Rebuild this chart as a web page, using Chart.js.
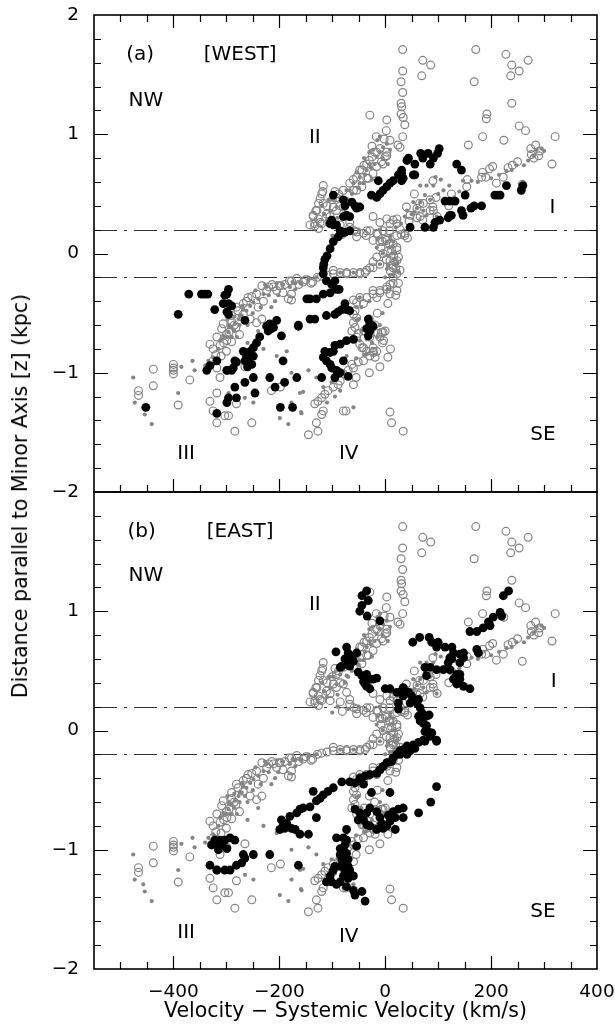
<!DOCTYPE html>
<html>
<head>
<meta charset="utf-8">
<script src="https://cdn.jsdelivr.net/npm/chart.js@4.4.1/dist/chart.umd.min.js"></script>
<style>
  body { margin: 0; background: #fff; width: 615px; height: 1027px; position: relative; overflow: hidden; }
  canvas { position: absolute; left: 0; }
  #yTitle {
    position: absolute; left: 20px; top: 496px; white-space: nowrap;
    font: 20.5px "DejaVu Sans", sans-serif; color: #000;
    transform: translate(-50%, -50%) rotate(-90deg);
  }
</style>
</head>
<body>
<canvas id="westChart" width="615" height="500" style="top:0"></canvas>
<canvas id="eastChart" width="615" height="550" style="top:477px"></canvas>
<div id="yTitle">Distance parallel to Minor Axis [z] (kpc)</div>
<script>
// axis ticks
const xTicks = [-400, -200, 0, 200, 400];
const yTicksWest = [-2, -1, 0, 1, 2];
const yTicksEast = [-2, -1, 0, 1];
const dashLevels = [0.2, -0.2];

// gray open circles (same in both panels)
const openGray = [
  [33,1.71],[33,1.53],[30,1.44],[33,1.35],[30,1.26],[31,1.23],[30,1.17],[34,1.14],[37,1.08],[33,0.98],[28,0.89],
  [-29,1.16],[3,1.12],[2,1.03],[9,0.95],[-2,0.96],[-17,0.98],[24,0.91],
  [71,1.62],[86,1.58],[69,1.49],
  [171,1.71],[168,1.44],[228,1.67],[239,1.58],[237,1.49],[270,1.62],[253,1.53],[239,1.26],[192,1.17],[191,1.13],
  [184,0.98],[157,0.91],[224,0.95],[253,1.07],[265,1.03],[321,0.98],[315,0.75],
  [275,0.88],[284,0.91],[292,0.86],[276,0.83],[281,0.80],[290,0.82],
  [250,0.77],[240,0.74],[232,0.72],[223,0.64],[210,0.59],[203,0.73],[197,0.71],[184,0.68],[182,0.64],[190,0.64],
  [154,0.56],[155,0.62],[259,0.58],
  [90,0.61],[96,0.47],[90,0.39],[85,0.36],[98,0.31],[71,0.28],[125,0.50],[120,0.40],[60,0.30],[45,0.27],[37,0.17],
  [28,0.20],[55,0.50],[65,0.42],
  [-117,0.57],[-118,0.52],[-123,0.46],[-126,0.42],[-131,0.36],[-136,0.32],[-142,0.24],[-133,0.25],[-123,0.26],[-126,0.29],
  [-104,0.31],[-92,0.36],[-79,0.39],[-73,0.32],[-67,0.26],[-104,0.25],[-85,0.24],
  [-16,0.73],[-23,0.67],[-35,0.63],[-44,0.56],[-54,0.53],[-7,0.77],[0,0.81],[3,0.85],
  [-23,0.31],[-10,0.26],[3,0.29],[15,0.28],[22,0.25],[-4,0.19],[-29,0.19],[-41,0.17],[-54,0.14],
  [-133,0.23],[-81,0.16],[-59,0.19],[-36,0.15],[-14,0.16],[8,0.19],[30,0.16],[42,0.13],
  [-110,0.40],[-100,0.45],[-95,0.52],[-88,0.50],[-60,0.62],[-48,0.70],[-30,0.78],[-20,0.85],[-10,0.88],[-25,0.90],[-40,0.74],
  [-129,0.36],[-136,0.31],[-120,0.25],[-111,0.33],[-117,0.42],[-120,0.50],[-98,0.39],[-92,0.47],[-79,0.53],[-67,0.59],
  [-54,0.64],[-44,0.70],[-35,0.75],[-25,0.81],[-16,0.85],[3,0.82],[-4,0.75],[-32,0.63],[-60,0.53],[-85,0.40],[-126,0.21],
  [-67,0.22],[-54,0.18],[-35,0.19],[-16,0.17],[22,0.15],[37,0.15],[9,0.25],[22,0.29],
  [47,0.32],[60,0.38],[72,0.42],[85,0.45],[66,0.31],[91,0.36],[40,0.39],
  [0,0.12],[8,0.08],[12,0.03],[16,-0.02],[18,-0.07],[20,-0.12],[14,-0.10],[5,0.02],[-5,0.10],[22,0.05],[25,-0.03],
  [10,-0.15],[-8,0.05],[2,-0.05],
  [-23,0.11],[-10,0.10],[3,0.11],[15,0.08],[22,0.03],[-4,0.00],[-16,-0.03],[-23,-0.07],[9,-0.06],[22,-0.06],[15,-0.12],
  [22,-0.17],[28,-0.14],[-29,-0.12],[-38,-0.16],
  [-98,-0.17],[-85,-0.16],[-73,-0.16],[-60,-0.16],[-48,-0.16],[-35,-0.14],[-23,-0.12],[-10,-0.09],[-110,-0.18],[-120,-0.19],
  [-98,-0.14],[-73,-0.17],[-48,-0.17],
  [15,-0.20],[9,-0.26],[3,-0.30],[-10,-0.33],[-23,-0.34],[-35,-0.37],[-48,-0.37],[-54,-0.41],[-57,-0.48],[-54,-0.54],
  [-60,-0.58],[-63,-0.65],[-54,-0.70],[-48,-0.76],[-44,-0.79],[-35,-0.82],[-29,-0.86],[-19,-0.87],[-16,-0.82],[-7,-0.66],
  [-10,-0.70],[-23,-0.79],[-41,-0.90],[-51,-0.91],[-63,-0.93],[-60,-0.96],[-70,-0.98],[-79,-1.01],[-85,-1.07],[-89,-1.10],
  [-98,-1.12],[-108,-1.15],[-114,-1.18],[-120,-1.21],[-127,-1.24],[-133,-1.26],[-117,-1.32],[-120,-1.35],[-130,-1.42],
  [-127,-1.49],[-145,-1.52],[-79,-1.32],[9,-1.33],[12,-1.42],[34,-1.49],
  [15,-0.25],[3,-0.28],[-10,-0.31],[-23,-0.31],[-60,-0.39],[-41,-0.42],[-60,-0.51],[-57,-0.62],[-51,-0.67],[-41,-0.79],
  [-23,-0.82],[-29,-0.70],[-4,-0.66],[-16,-0.37],[9,-0.34],[22,-0.31],
  [25,-0.25],[20,-0.35],[5,-0.42],[-15,-0.50],[-30,-0.55],[-20,-0.60],[0,-0.65],[-40,-0.65],[-5,-0.75],[10,-0.80],
  [5,-0.87],[-10,-0.95],[-30,-1.00],[-55,-1.04],[-60,-1.10],[-74,-1.32],[-14,-0.67],[-3,-0.73],[-22,-0.83],
  [-438,-0.97],[-400,-0.93],[-400,-0.96],[-400,-0.98],[-400,-1.01],[-438,-1.11],[-466,-1.15],[-466,-1.19],[-369,-1.06],[-391,-1.27],
  [-306,-0.59],[-331,-0.76],[-325,-0.80],[-312,-0.77],[-299,-0.73],[-318,-0.70],[-309,-0.63],
  [-318,-0.96],[-312,-1.04],[-299,-0.98],[-325,-0.90],[-265,-0.95],
  [-318,-1.17],[-331,-1.24],[-325,-1.32],[-318,-1.42],[-303,-1.36],[-296,-1.36],[-284,-1.49],[-252,-1.42],[-281,-1.26],
  [-215,-1.15],[-198,-1.12],
  [-281,-0.45],[-268,-0.42],[-259,-0.37],[-243,-0.34],[-224,-0.31],[-211,-0.28],[-199,-0.27],[-193,-0.33],[-183,-0.38],
  [-177,-0.23],[-167,-0.21],[-268,-0.51],[-255,-0.55],[-243,-0.58],[-233,-0.55],[-240,-0.45],[-230,-0.40],[-205,-0.31],
  [-233,-0.27],[-214,-0.26],[-200,-0.27],[-181,-0.23],[-163,-0.26],[-137,-0.24],[-150,-0.22],[-140,-0.25],[-177,-0.34],[-177,-0.39],
  [-290,-0.52],[-285,-0.60],[-275,-0.68],[-295,-0.66],[-300,-0.82],[-310,-0.86],[-290,-0.74],
  [-320,-0.85],[-305,-0.75],[-300,-0.68],[-290,-0.57],[-278,-0.48],[-262,-0.40],[-252,-0.36],[-282,-0.62],
  [-220,-0.28],[-190,-0.26],[-155,-0.24],[-128,-0.20]
];

// gray small dots (same in both panels)
const dotGray = [
  [66,0.57],[78,0.57],[91,0.57],[75,0.49],[66,0.43],[53,0.43],[41,0.36],[37,0.31],[110,0.53],[121,0.57],[147,0.61],
  [163,0.61],[229,0.69],[239,0.70],[248,0.74],[262,0.74],[286,0.87],[295,0.88],
  [100,0.50],[85,0.45],[60,0.38],[50,0.33],[30,0.25],[20,0.22],[130,0.47],[140,0.52],[175,0.60],[200,0.63],[215,0.66],
  [270,0.78],[280,0.82],[300,0.86],[95,0.64],[105,0.62],[78,0.32],[97,0.31],[72,0.36],[55,0.35],
  [-98,0.45],[-85,0.47],[-73,0.53],[-60,0.59],[-48,0.64],[-35,0.70],[-29,0.75],[-16,0.81],[-10,0.85],[-4,0.89],[3,0.92],
  [9,0.87],[-23,0.87],[-41,0.59],[-67,0.53],[-76,0.40],[-92,0.39],[-104,0.36],[-107,0.45],[-54,0.68],
  [-120,0.40],[-115,0.33],[-110,0.28],[-90,0.30],[-70,0.45],[-50,0.55],[-25,0.62],[-20,0.75],[-5,0.80],[5,0.75],
  [-40,0.80],[-30,0.85],[-15,0.95],[-10,0.98],[-48,0.59],[-73,0.46],[-104,0.45],[-63,0.50],[-38,0.66],[-27,0.72],
  [-15,0.12],[-5,0.00],[5,-0.10],[15,0.10],[22,-0.15],[10,0.15],[0,-0.20],[-10,0.20],[-50,0.20],[-70,0.18],[-90,0.20],[-100,0.15],
  [3,0.10],[8,0.05],[13,0.00],[18,-0.05],[20,-0.10],[10,0.12],[14,0.06],[19,0.00],[23,-0.08],[6,-0.02],[25,-0.15],[16,-0.18],
  [-10,-0.09],[3,-0.13],[9,-0.18],[-16,0.05],[-85,-0.16],[-60,-0.16],
  [-30,-0.40],[-45,-0.45],[-50,-0.55],[-45,-0.65],[-35,-0.72],[-25,-0.75],[-15,-0.70],[-10,-0.60],[-5,-0.50],[5,-0.30],
  [-40,-0.85],[-55,-0.88],[-73,-0.86],[-145,-0.98],[-161,-1.17],[-158,-1.34],[-60,-1.29],[-130,-1.04],[-101,-1.08],
  [-117,-1.12],[-95,-1.20],[-110,-1.25],[-85,-1.15],[-48,-0.37],[-54,-0.45],[-54,-0.56],[-48,-0.73],[-35,-0.84],
  [-476,-1.04],[-473,-1.25],[-457,-1.29],[-454,-1.35],[-441,-1.43],[-391,-1.17],[-385,-0.95],[-364,-0.90],[-360,-0.98],
  [-340,-0.94],[-334,-0.90],[-325,-0.87],
  [-312,-0.73],[-306,-0.69],[-296,-0.66],[-290,-0.62],[-284,-0.59],[-277,-0.55],[-271,-0.52],[-262,-0.48],[-255,-0.44],
  [-249,-0.41],[-240,-0.38],[-230,-0.34],[-224,-0.28],[-227,-0.26],[-208,-0.40],[-202,-0.35],[-193,-0.26],[-180,-0.28],
  [-205,-0.86],[-186,-0.82],[-177,-1.00],[-265,-1.21],[-249,-1.25],[-199,-1.38],[-183,-1.43],[-177,-1.25],[-296,-1.17],
  [-300,-0.70],[-295,-0.60],[-285,-0.65],[-280,-0.70],[-275,-0.60],[-265,-0.55],[-260,-0.60],[-250,-0.50],[-235,-0.45],
  [-220,-0.35],[-160,-0.25],[-145,-0.22],[-130,-0.20],[-170,-0.30],[-175,-0.24],[-215,-0.45],[-240,-0.65],[-230,-0.80],
  [-260,-0.75],[-155,-1.16],[-159,-1.33],
  [-315,-0.80],[-295,-0.62],[-285,-0.53],[-270,-0.44],[-245,-0.31],[-275,-0.52],[-290,-0.70],[-310,-0.72],[-298,-0.55],
  [-268,-0.47],[-205,-0.25],[-170,-0.25],[-145,-0.20]
];

// black filled circles, panel (a) WEST
const westBlack = [
  [41,0.78],[56,0.75],[67,0.84],[71,0.80],[81,0.84],[85,0.75],[91,0.80],[99,0.84],[102,0.88],[53,0.66],[56,0.66],
  [31,0.67],[31,0.61],[135,0.75],[144,0.70],[229,0.57],[260,0.57],[257,0.53],[207,0.49],[212,0.49],[217,0.49],
  [113,0.44],[122,0.44],[132,0.44],[151,0.49],[182,0.40],[168,0.40],[162,0.38],[144,0.36],[147,0.32],[122,0.32],
  [119,0.30],[125,0.32],[103,0.28],[94,0.26],[91,0.22],[75,0.22],[47,0.22],
  [44,0.80],[31,0.70],[34,0.63],[25,0.66],[15,0.61],[9,0.59],[3,0.56],[-4,0.53],[-10,0.50],[-16,0.47],[-26,0.49],[-13,0.61],
  [-98,0.49],[-79,0.45],[-76,0.40],[-63,0.43],[-57,0.40],[-48,0.39],[-54,0.38],[-73,0.32],[-67,0.31],[-79,0.31],
  [-101,0.28],[-104,0.25],[-98,0.24],[-92,0.24],[-85,0.19],[-76,0.18],[-67,0.19],[-82,0.17],[-89,0.14],[-98,0.10],
  [-104,0.04],[-110,-0.02],[-114,-0.05],
  [-116,-0.09],[-117,-0.12],[-117,-0.17],[-111,-0.23],[-101,-0.26],[-92,-0.30],[-104,-0.33],[-117,-0.34],[-130,-0.38],
  [-142,-0.38],[-148,-0.38],[-95,-0.23],[-87,-0.30],
  [-76,-0.42],[-82,-0.47],[-73,-0.47],[-67,-0.48],[-89,-0.49],[-95,-0.51],[-111,-0.52],[-133,-0.55],[-142,-0.55],[-164,-0.61],
  [-32,-0.55],[-29,-0.59],[-23,-0.61],[-35,-0.63],[-29,-0.65],[-32,-0.69],
  [-60,-0.72],[-73,-0.73],[-85,-0.76],[-95,-0.77],[-98,-0.82],[-104,-0.83],[-114,-0.82],[-117,-0.87],[-111,-0.90],
  [-104,-0.93],[-101,-0.96],[-92,-0.98],[-85,-1.00],[-79,-0.90],[-70,-1.03],[-95,-1.04],[-120,-1.04],
  [-371,-0.34],[-347,-0.34],[-341,-0.34],[-335,-0.34],[-296,-0.30],[-299,-0.34],[-303,-0.35],[-306,-0.42],[-296,-0.42],
  [-290,-0.44],[-299,-0.49],[-296,-0.51],[-322,-0.47],[-391,-0.51],[-265,-0.56],[-224,-0.61],[-218,-0.59],[-211,-0.62],
  [-205,-0.56],[-221,-0.65],[-215,-0.63],[-196,-0.69],[-164,-0.60],[-237,-0.70],[-243,-0.75],[-249,-0.79],[-255,-0.82],
  [-262,-0.86],[-268,-0.82],[-265,-0.90],[-249,-0.86],[-259,-0.90],[-252,-0.93],[-193,-0.90],[-284,-0.90],[-281,-0.91],
  [-287,-0.96],[-290,-0.98],[-299,-0.98],[-318,-0.90],[-331,-0.94],[-337,-0.98],[-260,-0.95],[-249,-1.04],[-265,-1.08],
  [-284,-1.12],[-281,-1.21],[-296,-1.21],[-299,-1.25],[-246,-1.17],[-218,-1.04],[-208,-1.12],[-190,-1.08],[-167,-1.04],
  [-198,-1.29],[-175,-1.29],[-318,-1.34],[-452,-1.29]
];

// black filled circles, panel (b) EAST
const eastBlack = [
  [-35,1.17],[-44,1.13],[-32,1.09],[-44,1.05],[-48,1.00],[-34,0.96],[-10,0.92],
  [-93,0.66],[-73,0.70],[-70,0.65],[-63,0.62],[-76,0.60],[-82,0.54],[-73,0.57],[-67,0.54],[-60,0.58],[-54,0.65],[-85,0.53],
  [-51,0.49],[-44,0.46],[-35,0.47],[-29,0.43],[-41,0.41],[-35,0.37],[-23,0.43],[-16,0.44],[-29,0.35],[-38,0.39],
  [0,0.35],[9,0.35],
  [22,0.32],[31,0.33],[34,0.36],[25,0.23],[34,0.29],[44,0.32],[50,0.29],[47,0.23],[53,0.25],[60,0.23],[63,0.26],
  [66,0.19],[69,0.15],[63,0.12],[72,0.13],[78,0.12],[83,0.13],[66,0.08],[72,0.06],[78,0.04],[81,-0.01],[88,-0.02],
  [85,-0.05],[97,-0.09],[75,-0.09],[56,-0.15],[47,-0.17],[41,-0.20],[28,-0.20],[25,0.18],
  [52,0.74],[65,0.78],[83,0.78],[88,0.74],[97,0.70],[100,0.74],
  [113,0.70],[126,0.70],[129,0.65],[122,0.61],[141,0.64],[148,0.65],[122,0.51],[135,0.47],[129,0.43],[135,0.39],
  [141,0.43],[148,0.37],[160,0.35],[119,0.57],[126,0.60],[141,0.57],[110,0.51],[97,0.51],[85,0.53],[75,0.53],[78,0.46],
  [141,0.47],[148,0.61],[173,0.68],[176,0.65],
  [160,0.83],[173,0.83],[185,0.86],[195,0.91],[204,0.95],[217,0.99],[220,0.96],[198,0.88],[223,1.13],[233,1.17],
  [75,-0.01],[85,-0.03],[97,-0.08],[72,-0.08],[63,-0.10],[53,-0.12],[41,-0.13],[34,-0.16],[28,-0.17],[22,-0.20],
  [15,-0.23],[12,-0.26],[3,-0.27],[-4,-0.30],[-10,-0.33],[-16,-0.36],[-29,-0.37],[-38,-0.38],[-48,-0.40],[-57,-0.44],
  [-67,-0.43],[-82,-0.43],
  [-98,-0.48],[-108,-0.51],[-117,-0.54],[-123,-0.57],[-130,-0.59],[-136,-0.51],[-142,-0.64],[-155,-0.65],[-161,-0.66],
  [-167,-0.69],[-180,-0.72],[-186,-0.78],[-196,-0.75],[-193,-0.80],[-199,-0.83],[-190,-0.82],[-177,-0.82],[-170,-0.83],
  [-161,-0.87],[-145,-0.87],[-130,-0.73],
  [-41,-0.45],[-26,-0.52],[9,-0.52],[97,-0.47],[86,-0.60],[63,-0.69],
  [34,-0.65],[25,-0.66],[15,-0.68],[6,-0.71],[19,-0.73],[9,-0.76],[3,-0.80],[-7,-0.78],[-10,-0.73],[-16,-0.68],
  [-29,-0.65],[-35,-0.69],[-41,-0.75],[-35,-0.79],[-29,-0.80],[-16,-0.83],[34,-0.73],[19,-0.83],[-4,-0.82],[-48,-0.69],
  [-51,-0.75],[-57,-0.66],
  [-92,-0.90],[-79,-0.90],[-73,-0.92],[-76,-0.96],[-85,-0.99],[-79,-1.00],[-73,-1.03],[-85,-1.04],[-82,-1.08],[-70,-1.08],
  [-76,-1.13],[-70,-1.14],[-85,-1.14],[-95,-1.14],[-76,-1.18],[-67,-1.17],[-60,-1.22],[-70,-1.24],[-79,-1.22],[-85,-1.27],
  [-92,-1.29],[-101,-1.27],[-111,-1.27],[-104,-1.22],[-98,-1.17],[-73,-1.31],[-60,-1.34],[-57,-1.38],[-44,-1.35],
  [-38,-1.43],[-54,-0.97],[-73,-0.83],
  [-322,-0.92],[-312,-0.92],[-303,-0.92],[-293,-0.90],[-284,-0.92],[-318,-0.96],[-309,-0.96],[-299,-0.99],[-315,-1.00],
  [-328,-0.96],[-331,-1.13],[-318,-1.17],[-303,-1.17],[-293,-1.17],[-281,-1.13],[-271,-1.11],[-265,-1.07],[-268,-1.04],
  [-249,-1.04],[-218,-1.04],[-164,-1.13]
];

// text labels inside each panel: [text, x, y]
const westNotes = [["(a)", -463, 1.67], ["[WEST]", -274, 1.67], ["NW", -452, 1.28], ["II", -133, 0.97],
  ["I", 316, 0.38], ["III", -376, -1.68], ["IV", -69, -1.68], ["SE", 298, -1.52]];
const eastNotes = [["(b)", -460, 1.67], ["[EAST]", -274, 1.67], ["NW", -452, 1.30], ["II", -133, 1.05],
  ["I", 318, 0.41], ["III", -376, -1.70], ["IV", -69, -1.73], ["SE", 298, -1.52]];

Chart.defaults.font.family = "'DejaVu Sans', sans-serif";
Chart.defaults.font.size = 18.5;
Chart.defaults.color = "#000";

const toXY = arr => arr.map(p => ({ x: p[0], y: p[1] }));
const minusLabel = v => (v < 0 ? "\u2212" + Math.abs(v) : String(v));

// frame, inward ticks, dash-dot lines and panel texts
function framePlugin(notes, topTicks) {
  return {
    id: "frame",
    beforeDatasetsDraw(chart) {
      const { ctx, chartArea: a, scales: { y } } = chart;
      ctx.save();
      ctx.strokeStyle = "#333";
      ctx.lineWidth = 1.2;
      ctx.setLineDash([23, 7, 3, 7]);
      dashLevels.forEach(v => {
        const py = Math.round(y.getPixelForValue(v)) + 0.5;
        ctx.beginPath();
        ctx.moveTo(a.left, py);
        ctx.lineTo(a.right, py);
        ctx.stroke();
      });
      ctx.restore();
    },
    afterDatasetsDraw(chart) {
      const { ctx, chartArea: a, scales: { x, y } } = chart;
      ctx.save();
      ctx.strokeStyle = "#000";
      ctx.lineWidth = 1.6;
      ctx.strokeRect(a.left, a.top, a.right - a.left, a.bottom - a.top);

      ctx.lineWidth = 1.2;
      ctx.beginPath();
      for (let v = -500; v < 400; v += 50) {
        const px = Math.round(x.getPixelForValue(v)) + 0.5;
        const len = v % 200 === 0 ? 13 : 7;
        ctx.moveTo(px, a.bottom);
        ctx.lineTo(px, a.bottom - len);
        if (topTicks) {
          ctx.moveTo(px, a.top);
          ctx.lineTo(px, a.top + len);
        }
      }
      for (let i = -9; i <= 9; i++) {
        const py = Math.round(y.getPixelForValue(i * 0.2)) + 0.5;
        const len = i % 5 === 0 ? 14 : 7;
        ctx.moveTo(a.left, py);
        ctx.lineTo(a.left + len, py);
        ctx.moveTo(a.right, py);
        ctx.lineTo(a.right - len, py);
      }
      ctx.stroke();

      ctx.fillStyle = "#000";
      ctx.font = "20px 'DejaVu Sans', sans-serif";
      ctx.textAlign = "center";
      ctx.textBaseline = "middle";
      notes.forEach(([t, vx, vy]) => ctx.fillText(t, x.getPixelForValue(vx), y.getPixelForValue(vy)));
      ctx.restore();
    }
  };
}

function makePanel(id, blackPts, yTickList, notes, isBottom) {
  return new Chart(document.getElementById(id), {
    type: "scatter",
    data: {
      datasets: [
        { data: toXY(blackPts), pointRadius: 4.4, backgroundColor: "#000", borderWidth: 0, order: 1 },
        { data: toXY(dotGray), pointRadius: 2.1, backgroundColor: "#858585", borderWidth: 0, order: 2 },
        { data: toXY(openGray), pointRadius: 3.9, backgroundColor: "rgba(0,0,0,0)", borderColor: "#838383", borderWidth: 1.2, order: 3 }
      ]
    },
    options: {
      responsive: false,
      animation: false,
      devicePixelRatio: 1,
      events: [],
      layout: { padding: { top: 15, right: 18, bottom: isBottom ? 0 : 8, left: 0 } },
      plugins: { legend: { display: false }, tooltip: { enabled: false } },
      scales: {
        x: {
          type: "linear", min: -550, max: 400, display: isBottom,
          grid: { display: false, drawTicks: false },
          border: { display: false },
          afterBuildTicks: s => { s.ticks = xTicks.map(v => ({ value: v })); },
          ticks: { padding: 12, maxRotation: 0, autoSkip: false, callback: minusLabel },
          title: { display: true, text: "Velocity \u2212 Systemic Velocity (km/s)", font: { size: 20.5 }, padding: { top: 0, bottom: 3 } },
          afterFit: s => {
            s.paddingLeft = 0; s.paddingRight = 0;
            if (isBottom) s.height = 58; else s.height = 0;
          }
        },
        y: {
          type: "linear", min: -2, max: 2,
          grid: { display: false, drawTicks: false },
          border: { display: false },
          afterBuildTicks: s => { s.ticks = yTickList.map(v => ({ value: v })); },
          ticks: { padding: 15, autoSkip: false, callback: minusLabel },
          afterFit: s => { s.width = 94; s.paddingTop = 0; s.paddingBottom = 0; }
        }
      }
    },
    plugins: [framePlugin(notes, !isBottom)]
  });
}

makePanel("westChart", westBlack, yTicksWest, westNotes, false);
makePanel("eastChart", eastBlack, yTicksEast, eastNotes, true);
</script>
</body>
</html>
